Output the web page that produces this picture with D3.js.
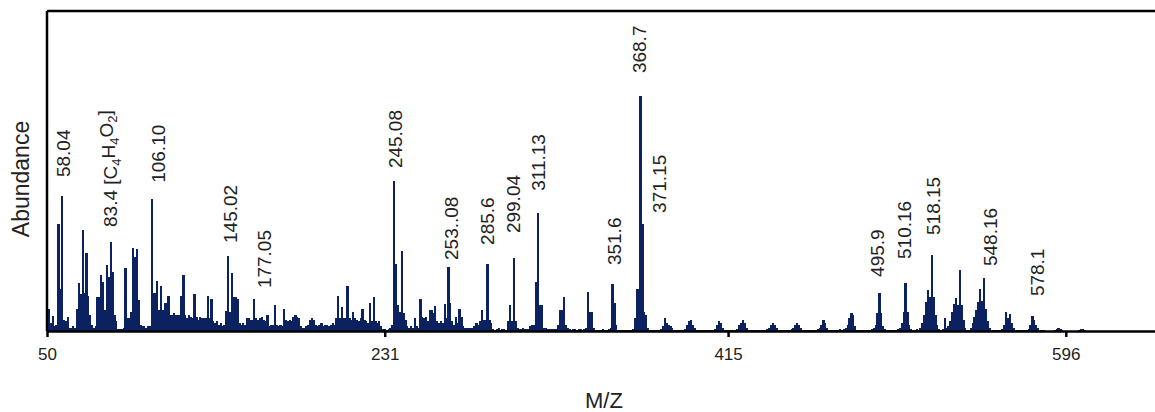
<!DOCTYPE html>
<html>
<head>
<meta charset="utf-8">
<script src="https://cdn.jsdelivr.net/npm/d3@7"></script>
<style>
  body { margin: 0; background: #fff; }
  text { font-family: "Liberation Sans", Arial, sans-serif; }
</style>
</head>
<body>
<svg id="spectrum"></svg>
<script>
// m/z starts at 50, one value per unit step
const mzStart = 50;
const abundance = [
  7.5, 7, 2.5, 4.7, 1.5, 2, 33.4, 13, 42.2, 3.4,
  3, 4.4, 1, 1, 1.5, 0.8, 7, 15, 11.5, 31.6,
  12, 24.4, 11, 5, 2, 1, 1.5, 10.6, 10.6, 17.5,
  15.3, 6.6, 20.6, 17, 27.8, 18.4, 5, 3, 0.5, 0.5,
  0.5, 1, 19.7, 4, 4, 6, 26, 23, 25.6, 9.7,
  2, 1.5, 1.5, 1, 1.5, 1.5, 41.3, 12, 12, 15.6,
  6.5, 14, 6.5, 8.7, 8.7, 11, 5, 5, 5.5, 5,
  5, 5, 11, 17.5, 5, 4, 5, 4.5, 4, 11.6,
  4.5, 3.5, 4.5, 4, 4, 4, 11, 4, 10, 3,
  2.5, 3, 2, 2.5, 1.5, 2, 6.3, 23.4, 6, 18.2,
  10.6, 10.6, 10, 2.5, 2, 2.5, 2, 4, 4, 3.5,
  3.5, 10, 4, 3.5, 4, 4.5, 3.5, 3, 5, 1.5,
  2, 2, 8, 2, 1.5, 2, 1.5, 7, 3.5, 3,
  3.5, 3, 4.5, 5, 4.5, 4, 1.5, 1, 1, 1.5,
  2, 3.5, 4, 3.5, 2, 1.5, 2, 2.5, 1.5, 2,
  2, 1.5, 2, 2.5, 2, 4, 11, 4, 7.5, 4,
  4, 14, 4, 3.5, 6, 4, 3.5, 3, 4, 7,
  3.5, 3, 2.5, 8.7, 3, 10.6, 3, 2.5, 3, 1.5,
  0.5, 0.5, 0.3, 0.5, 1, 2, 46.9, 21, 8, 6,
  25, 5.5, 3.5, 1.5, 1, 1.5, 1, 4, 1.5, 1,
  10, 4.5, 4, 4.5, 3, 6.5, 6.5, 5.5, 7.8, 3,
  2.5, 3, 2.5, 8.4, 4, 20, 8.7, 3, 2, 4.5,
  2.5, 7, 4.5, 1.5, 1, 0.8, 1, 0.8, 0.8, 1.5,
  2.5, 2, 3, 6.7, 3.5, 3.5, 21, 3.5, 2.5, 0.5,
  0.3, 0.5, 0.8, 0.3, 0.5, 0.5, 0.3, 3, 8, 3,
  22.7, 3, 1, 0.7, 0.5, 1, 0.5, 0.7, 0.5, 1.5,
  2, 2, 15.3, 37, 8, 8, 1, 0.8, 0.5, 0.5,
  0.5, 0.5, 0.5, 0.5, 2, 6.5, 6.5, 10.5, 2, 1,
  0.5, 0.3, 0.5, 0.5, 0.3, 0.5, 0.5, 0.3, 0.5, 1,
  12.3, 6, 6, 1, 0.3, 0.3, 0.2, 0.3, 0.5, 0.3,
  0.3, 0.5, 1, 14.6, 8.7, 2, 0.3, 0.3, 0.2, 0.3,
  0.3, 0.2, 0.3, 0.3, 0.5, 4, 13, 13, 73.4, 33.3,
  6, 5, 1, 0.3, 0.3, 0.2, 0.3, 0.3, 0.2, 0.5,
  1.5, 4.2, 2.5, 2, 1.5, 1, 0.3, 0.2, 0.3, 0.2,
  0.2, 0.3, 0.5, 2, 3, 3.5, 2, 1, 0.3, 0.2,
  0.2, 0.2, 0.3, 0.2, 0.2, 0.3, 0.2, 0.3, 0.5, 2,
  3, 2.5, 1, 0.3, 0.2, 0.2, 0.2, 0.3, 0.2, 0.3,
  0.5, 2, 2.5, 3.5, 2.5, 1, 0.3, 0.2, 0.2, 0.2,
  0.2, 0.2, 0.3, 0.2, 0.2, 0.3, 0.5, 1, 2, 2.5,
  2, 1, 0.3, 0.2, 0.2, 0.2, 0.3, 0.2, 0.3, 0.5,
  1, 2, 2.5, 2, 1, 0.3, 0.2, 0.2, 0.2, 0.2,
  0.3, 0.2, 0.3, 0.5, 1, 2, 3.5, 2.5, 1, 0.3,
  0.2, 0.2, 0.2, 0.3, 0.2, 0.5, 0.3, 0.5, 1, 2,
  4, 5.5, 5, 1.5, 0.3, 0.2, 0.2, 0.3, 0.2, 0.2,
  0.3, 0.2, 0.5, 1, 2, 5.5, 11.8, 5.5, 1.5, 0.5,
  0.2, 0.3, 0.2, 0.2, 0.2, 0.3, 0.5, 1, 2.5, 6,
  14.9, 6, 2, 0.5, 0.3, 0.2, 0.5, 0.3, 1, 2.5,
  5, 9, 12.8, 10.7, 23.7, 10.7, 5, 2, 0.5, 0.3,
  0.5, 4, 1, 1.5, 3, 6, 8.5, 10.3, 8, 19,
  8, 3.5, 1, 0.3, 0.3, 1, 2.5, 4.5, 6.5, 9,
  13, 9.5, 16.5, 7, 3, 1, 0.3, 0.2, 0.2, 0.3,
  0.2, 0.3, 0.5, 2, 6, 4, 5.3, 2.5, 1, 0.3,
  0.2, 0.2, 0.2, 0.3, 0.2, 0.3, 0.5, 2, 4.7, 3.5,
  2, 1, 0.3, 0.2, 0.2, 0.1, 0.1, 0.1, 0.1, 0.1,
  0.2, 0.6, 1, 0.6, 0.2, 0.1, 0.1, 0.1, 0.1, 0.1,
  0.1, 0.1, 0.1, 0.2, 0.5, 0.6, 0.4
];

// peak annotations: text, m/z where the label sits, abundance at label foot
const labelText = ["58.04", "83.4 [C4H4O2]", "106.10", "145.02", "177.05", "245.08",
  "253..08", "285.6", "299.04", "311.13", "351.6", "368.7", "371.15",
  "495.9", "510.16", "518.15", "548.16", "578.1"];
const labelMz = [58.6, 83.8, 109.5, 148.1, 166.3, 236.5, 266.5, 285.8, 299.7,
  313.1, 353.8, 367.2, 377.9, 494.8, 509.3, 524.8, 555.4, 580.5];
const labelAt = [48.1, 32.5, 46.3, 27.5, 13.4, 50.9, 22.2, 26.9, 30.6,
  43.8, 20.6, 80.6, 36.9, 16.9, 22.5, 30, 20.3, 10.9];

const xTicks = [50, 231, 415, 596];

let width = 1155,
  height = 412;
let margin = { top: 11, right: 0, bottom: 81, left: 47 };

let svg = d3.select("#spectrum").attr("width", width).attr("height", height);

let xScale = d3
  .scaleLinear()
  .domain([50, 643.8])
  .range([margin.left, width - margin.right]);

let yScale = d3
  .scaleLinear()
  .domain([0, 100])
  .range([height - margin.bottom, margin.top]);

let peaks = abundance.map((v, i) => ({ mz: mzStart + i, v: v }));
let step = xScale(1) - xScale(0);

svg
  .append("g")
  .attr("shape-rendering", "crispEdges")
  .selectAll("rect")
  .data(peaks.filter((d) => d.v > 0))
  .enter()
  .append("rect")
  .attr("x", (d) => xScale(d.mz) - step / 2)
  .attr("y", (d) => yScale(d.v))
  .attr("width", step + 0.4)
  .attr("height", (d) => yScale(0) - yScale(d.v))
  .attr("fill", "#0c2260");

// frame: top and left
svg
  .append("line")
  .attr("x1", margin.left)
  .attr("x2", width)
  .attr("y1", margin.top)
  .attr("y2", margin.top)
  .attr("stroke", "#000")
  .attr("stroke-width", 2.5);

svg
  .append("line")
  .attr("x1", margin.left)
  .attr("x2", margin.left)
  .attr("y1", margin.top)
  .attr("y2", yScale(0))
  .attr("stroke", "#000")
  .attr("stroke-width", 2.5);

let xAxis = svg
  .append("g")
  .attr("transform", `translate(0, ${yScale(0)})`)
  .call(d3.axisBottom(xScale).tickValues(xTicks).tickSize(6).tickPadding(11).tickSizeOuter(0));

xAxis.select(".domain").attr("stroke", "#000").attr("stroke-width", 2.5);
xAxis.selectAll(".tick line").attr("stroke", "#000").attr("stroke-width", 2.5);
xAxis
  .selectAll(".tick text")
  .attr("font-size", "17px")
  .attr("font-family", "Liberation Sans, Arial, sans-serif")
  .attr("fill", "#222");

svg
  .append("text")
  .attr("x", 604)
  .attr("y", 408)
  .attr("text-anchor", "middle")
  .attr("font-size", "22px")
  .attr("fill", "#222")
  .text("M/Z");

svg
  .append("text")
  .attr("transform", "translate(29, 179) rotate(-90)")
  .attr("text-anchor", "middle")
  .attr("font-size", "23px")
  .attr("fill", "#222")
  .text("Abundance");

let labels = svg
  .append("g")
  .selectAll("text")
  .data(labelText)
  .enter()
  .append("text")
  .attr("transform", (d, i) => `translate(${xScale(labelMz[i])}, ${yScale(labelAt[i])}) rotate(-90)`)
  .attr("dy", "0.35em")
  .attr("font-size", "19px")
  .attr("fill", "#222");

// plain labels
labels.filter((d) => d.indexOf("[") < 0).text((d) => d);

// formula label, digits inside the brackets are subscripts
labels
  .filter((d) => d.indexOf("[") >= 0)
  .each(function (d) {
    let t = d3.select(this);
    let head = d.slice(0, d.indexOf("[") + 1);
    let parts = [head].concat(d.slice(head.length).match(/\d+|[^\d]+/g));
    parts.forEach(function (p, k) {
      let sub = /^\d+$/.test(p);
      let prevSub = k > 0 && /^\d+$/.test(parts[k - 1]);
      t.append("tspan")
        .attr("font-size", sub ? "13px" : "19px")
        .attr("dy", sub ? "0.3em" : prevSub ? "-0.3em" : null)
        .text(p);
    });
  });
</script>
</body>
</html>
